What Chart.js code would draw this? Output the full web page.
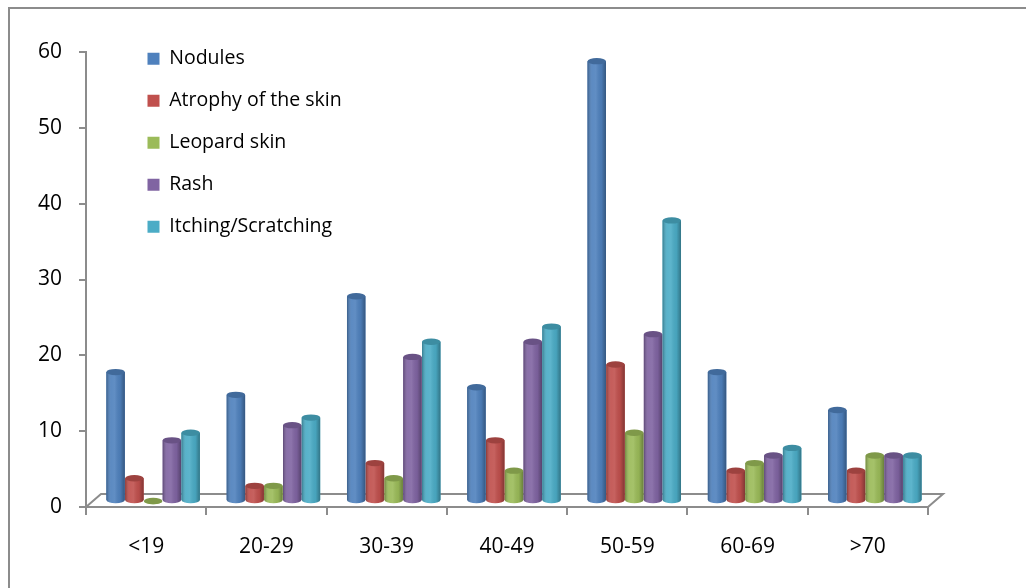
<!DOCTYPE html>
<html><head><meta charset="utf-8">
<script src="https://cdn.jsdelivr.net/npm/chart.js@4.4.1/dist/chart.umd.min.js"></script>
<style>
html,body{margin:0;padding:0;background:#fff;overflow:hidden}
#wrap{position:relative;width:1026px;height:588px;overflow:hidden}
#frame{position:absolute;left:8px;top:7px;width:1040px;height:600px;border:2px solid #8c8c8c;box-sizing:border-box;pointer-events:none}
canvas{position:absolute;left:0;top:0}
</style></head>
<body><div id="wrap"><canvas id="c" width="1026" height="588"></canvas><div id="frame"></div></div>
<script>
const categories = ['<19','20-29','30-39','40-49','50-59','60-69','>70'];
const nodules  = [17,14,27,15,58,17,12];
const atrophy  = [3,2,5,8,18,4,4];
const leopard  = [0,2,3,4,9,5,6];
const rash     = [8,10,19,21,22,6,6];
const itching  = [9,11,21,23,37,7,6];
const seriesNames = ['Nodules','Atrophy of the skin','Leopard skin','Rash','Itching/Scratching'];
const seriesColors = ['#4F81BD','#C0504D','#9BBB59','#8064A2','#4BACC6'];
const yTicks = [0,10,20,30,40,50,60];

const seriesValues = [nodules, atrophy, leopard, rash, itching];
const BAR_DX = 7, BAR_DY = 6, FLOOR_DX = 15, FLOOR_DY = 13;

function shade(hex, f){
  const n = parseInt(hex.slice(1),16);
  const r = Math.round(((n>>16)&255)*f), g = Math.round(((n>>8)&255)*f), b = Math.round((n&255)*f);
  return 'rgb('+Math.min(255,r)+','+Math.min(255,g)+','+Math.min(255,b)+')';
}

const threeD = {
  id:'threeD',
  afterLayout(chart){
    const lg = chart.legend;
    if(lg){ lg.left = chart.chartArea.left + 39; lg.top = chart.chartArea.top - 25.5; }
  },
  beforeDatasetsDraw(chart){
    const {ctx, chartArea:a} = chart;
    ctx.save();
    ctx.strokeStyle = '#8c8c8c'; ctx.lineWidth = 2;
    ctx.beginPath();
    ctx.moveTo(a.left, a.bottom); ctx.lineTo(a.left+FLOOR_DX, a.bottom-FLOOR_DY);
    ctx.lineTo(a.right+FLOOR_DX, a.bottom-FLOOR_DY); ctx.lineTo(a.right, a.bottom);
    ctx.stroke();
    ctx.translate(BAR_DX, -BAR_DY);
  },
  afterDatasetsDraw(chart){
    const ctx = chart.ctx;
    chart.data.datasets.forEach((ds, di) => {
      const meta = chart.getDatasetMeta(di);
      const col = ds.backgroundColor;
      meta.data.forEach(el => {
        const {x, y, base, width} = el.getProps(['x','y','base','width'], true);
        const l = x - width/2, r = x + width/2, rx = width/2, ry = 3.2;
        ctx.beginPath();
        ctx.moveTo(l, y);
        ctx.lineTo(l, base);
        ctx.ellipse(x, base, rx, ry, 0, Math.PI, 0, true);
        ctx.lineTo(r, y);
        ctx.closePath();
        ctx.fillStyle = col; ctx.fill();
        const g = ctx.createLinearGradient(l, 0, r, 0);
        g.addColorStop(0, 'rgba(0,0,0,0.28)');
        g.addColorStop(0.25, 'rgba(255,255,255,0.08)');
        g.addColorStop(0.45, 'rgba(255,255,255,0.10)');
        g.addColorStop(0.75, 'rgba(0,0,0,0.05)');
        g.addColorStop(1, 'rgba(0,0,0,0.32)');
        ctx.fillStyle = g; ctx.fill();
        ctx.beginPath();
        ctx.ellipse(x, y, rx, ry, 0, 0, Math.PI*2);
        ctx.fillStyle = shade(col, 0.82); ctx.fill();
      });
    });
    ctx.restore();
  }
};

Chart.defaults.font.family = "'Open Sans', sans-serif";
Chart.defaults.font.size = 19;
Chart.defaults.color = '#000';

new Chart(document.getElementById('c'), {
  type:'bar',
  data:{
    labels: categories,
    datasets: seriesNames.map((name, i) => ({
      label: name,
      data: seriesValues[i],
      backgroundColor: seriesColors[i],
      borderWidth: 0,
      categoryPercentage: 0.78,
      barPercentage: 0.98
    }))
  },
  options:{
    responsive:false,
    animation:false,
    layout:{padding:{left:0, right:98, top:52, bottom:0}},
    plugins:{
      legend:{
        position:'chartArea',
        align:'start',
        labels:{boxWidth:12, boxHeight:12, padding:22.5, font:{size:19.5}, color:'#000'}
      },
      tooltip:{enabled:false}
    },
    scales:{
      x:{
        offset:true,
        grid:{display:true, drawOnChartArea:false, drawTicks:true, tickLength:8, color:'#8c8c8c', lineWidth:2},
        border:{display:true, color:'#8c8c8c', width:2},
        ticks:{padding:19, font:{size:21}, color:'#000', maxRotation:0},
        afterFit(s){ s.height = 81; }
      },
      y:{
        min: yTicks[0], max: yTicks[yTicks.length-1],
        grid:{display:true, drawOnChartArea:false, drawTicks:true, tickLength:7, color:'#8c8c8c', lineWidth:2},
        border:{display:true, color:'#8c8c8c', width:2},
        ticks:{stepSize: yTicks[1]-yTicks[0], padding:17, font:{size:21}, color:'#000'},
        afterFit(s){ s.width = 86; }
      }
    }
  },
  plugins:[threeD]
});
</script>
</body></html>
